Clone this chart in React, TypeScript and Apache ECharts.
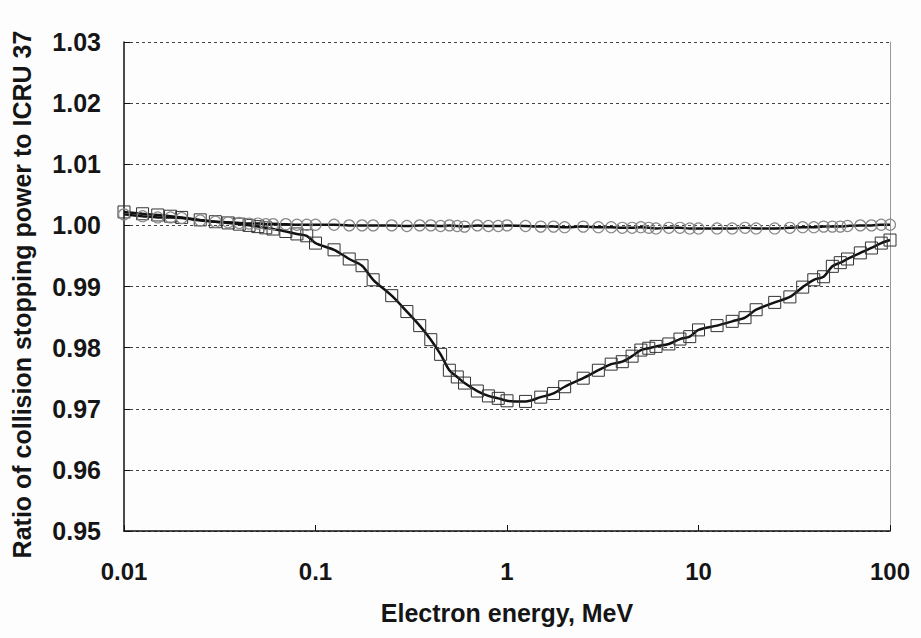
import React, { useEffect, useRef } from "react";
import * as echarts from "echarts";

const energies = [
  0.01, 0.0125, 0.015, 0.0175, 0.02, 0.025, 0.03, 0.035, 0.04, 0.045, 0.05, 0.055, 0.06, 0.07, 0.08, 0.09,
  0.1, 0.125, 0.15, 0.175, 0.2, 0.25, 0.3, 0.35, 0.4, 0.45, 0.5, 0.55, 0.6, 0.7, 0.8, 0.9,
  1, 1.25, 1.5, 1.75, 2, 2.5, 3, 3.5, 4, 4.5, 5, 5.5, 6, 7, 8, 9,
  10, 12.5, 15, 17.5, 20, 25, 30, 35, 40, 45, 50, 55, 60, 70, 80, 90,
  100,
];

const ratioSquares = [
  1.0022, 1.0019, 1.0017, 1.0015, 1.0013, 1.0009, 1.0006, 1.0004, 1.0002, 1.0, 0.9998, 0.9996, 0.9994, 0.999, 0.9986, 0.9983,
  0.9971, 0.996, 0.9945, 0.9934, 0.9911, 0.9885, 0.9859, 0.9836, 0.9813, 0.9789, 0.9763, 0.9752, 0.9742, 0.9729, 0.9721, 0.9717,
  0.9713, 0.9712, 0.9719, 0.9725, 0.9736, 0.975, 0.9763, 0.9773, 0.9777, 0.9786, 0.9796, 0.9799, 0.9802, 0.9806, 0.9814, 0.9818,
  0.9829, 0.9836, 0.9843, 0.9849, 0.9862, 0.9874, 0.9883, 0.9899, 0.9911, 0.9916, 0.9933, 0.9939, 0.9945, 0.9955, 0.9963, 0.9971,
  0.9976,
];

const ratioCircles = [
  1.0018, 1.0015, 1.0013, 1.0013, 1.0012, 1.0008, 1.0006, 1.0005, 1.0004, 1.0003, 1.0003, 1.0002, 1.0002, 1.0002, 1.0001, 1.0001,
  1.0001, 1.0001, 1.0, 1.0, 1.0, 1.0, 0.9999, 1.0, 1.0, 0.9999, 1.0, 0.9999, 0.9998, 1.0, 0.9999, 0.9999,
  1.0, 0.9999, 0.9998, 0.9998, 0.9997, 0.9998, 0.9997, 0.9997, 0.9996, 0.9996, 0.9997, 0.9996, 0.9995, 0.9996, 0.9996, 0.9995,
  0.9995, 0.9995, 0.9995, 0.9996, 0.9995, 0.9995, 0.9996, 0.9997, 0.9997, 0.9998, 0.9998, 0.9998, 0.9999, 1.0, 1.0, 1.0001,
  1.0001,
];

const yMin = 0.95;
const yMax = 1.03;
const yStep = 0.01;
const xMin = 0.01;
const xMax = 100;

const xTitle = "Electron energy, MeV";
const yTitle = "Ratio of collision stopping power to ICRU 37";

const FONT = "'Liberation Sans', Arial, sans-serif";

export default function App() {
  const ref = useRef<HTMLDivElement>(null);

  useEffect(() => {
    if (!ref.current) return;
    const chart = echarts.init(ref.current, undefined, { renderer: "svg" });
    const sq = energies.map((e, i) => [e, ratioSquares[i]]);
    const ci = energies.map((e, i) => [e, ratioCircles[i]]);
    chart.setOption({
      animation: false,
      backgroundColor: "#fdfdfd",
      grid: { left: 124, right: 31, top: 42, bottom: 107, containLabel: false },
      xAxis: {
        type: "log",
        logBase: 10,
        min: xMin,
        max: xMax,
        name: xTitle,
        nameLocation: "middle",
        nameGap: 69,
        nameTextStyle: { fontFamily: FONT, fontWeight: "bold", fontSize: 25, color: "#151515" },
        axisLine: { show: true, onZero: false, lineStyle: { color: "#111", width: 1.5 } },
        axisTick: { show: true, inside: true, length: 6, lineStyle: { color: "#111" } },
        minorTick: { show: false },
        splitLine: { show: false },
        axisLabel: {
          margin: 28,
          fontFamily: FONT,
          fontWeight: "bold",
          fontSize: 24,
          color: "#151515",
          formatter: (v: number) => String(Number(v.toPrecision(3))),
        },
      },
      yAxis: [
        {
          type: "value",
          min: yMin,
          max: yMax,
          interval: yStep,
          name: yTitle,
          nameLocation: "middle",
          nameGap: 90,
          nameRotate: 90,
          nameTextStyle: {
            fontFamily: FONT,
            fontWeight: "bold",
            fontSize: 25,
            color: "#151515",
            padding: [0, 16, 0, 0],
          },
          axisLine: { show: true, lineStyle: { color: "#111", width: 1.5 } },
          axisTick: { show: true, inside: true, length: 6, lineStyle: { color: "#111" } },
          splitLine: { show: true, lineStyle: { color: "#444", type: [3, 3], width: 1 } },
          axisLabel: {
            margin: 23,
            fontFamily: FONT,
            fontWeight: "bold",
            fontSize: 25,
            color: "#151515",
            formatter: (v: number) => v.toFixed(2),
          },
        },
        {
          type: "value",
          min: yMin,
          max: yMax,
          interval: yStep,
          position: "right",
          axisLine: { show: true, lineStyle: { color: "#999", width: 1 } },
          axisTick: { show: false },
          axisLabel: { show: false },
          splitLine: { show: false },
        },
      ],
      series: [
        {
          type: "line",
          data: sq,
          yAxisIndex: 0,
          smooth: 0.3,
          symbol: "rect",
          symbolSize: 12,
          lineStyle: { color: "#111", width: 2.5 },
          itemStyle: { color: "rgba(0,0,0,0)", borderColor: "#333", borderWidth: 1 },
          z: 3,
        },
        {
          type: "line",
          data: ci,
          yAxisIndex: 0,
          smooth: 0.3,
          symbol: "circle",
          symbolSize: 11,
          lineStyle: { color: "#111", width: 2.5 },
          itemStyle: { color: "rgba(0,0,0,0)", borderColor: "#888", borderWidth: 1.2 },
          z: 4,
        },
      ],
    });
    return () => chart.dispose();
  }, []);

  return (
    <div
      ref={ref}
      style={{ position: "fixed", left: 0, top: 0, width: 921, height: 638 }}
    />
  );
}
